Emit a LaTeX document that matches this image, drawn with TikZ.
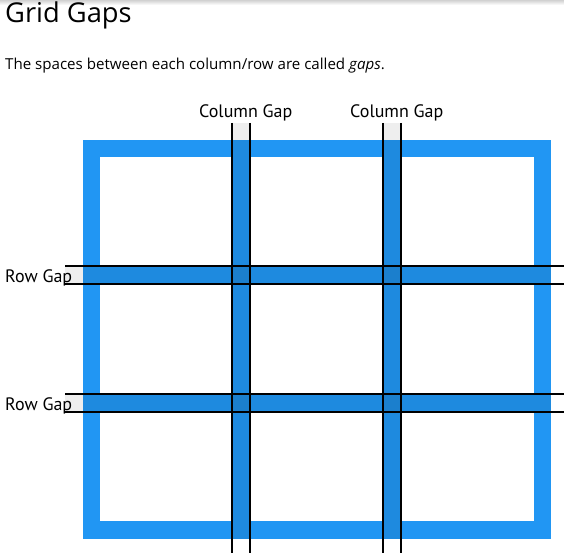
\documentclass[tikz,border=0pt]{standalone}
\usepackage{fontspec}
\setmainfont{Open Sans}
\newfontfamily\labelfont{PT Sans}
\definecolor{framecol}{HTML}{2196F3}
\definecolor{padcol}{HTML}{EEEEEE}
\begin{document}
\begin{tikzpicture}[x=1pt,y=-1pt,
  gaplabel/.style={font=\labelfont\fontsize{18}{18}\selectfont,inner sep=0pt,anchor=base west},
  gapline/.style={draw=black,line width=2pt},
  gapband/.style={fill=framecol},
  gapshade/.style={fill=black,fill opacity=0.08}]
\def\colA{232}
\def\colB{383}
\def\rowA{266}
\def\rowB{394}
\def\gap{18}
\useasboundingbox (0,0) rectangle (564,553);
% browser shadow on top
\shade[top color=black!18,bottom color=white] (0,0) rectangle (564,5);
\path
(5,23) node [anchor=base west,inner sep=0pt,font=\fontsize{27.3}{28}\selectfont] (title) {Grid Gaps}
(5,70) node [anchor=base west,inner sep=0pt,font=\fontsize{15.1}{16}\selectfont] (intro) {The spaces between each column/row are called \textit{gaps}.}
;
% outer frame of the grid
\fill[framecol] (83,140) rectangle (551,539);
\fill[white] (100,157) rectangle (534,521);
% grey padding outside the frame
\fill[padcol] (\colA,123) rectangle ++(\gap,17);
\fill[padcol] (\colB,123) rectangle ++(\gap,17);
\fill[padcol] (65,\rowA) rectangle ++(18,\gap);
\fill[padcol] (65,\rowB) rectangle ++(18,\gap);
% gap bands
\foreach \c in {\colA,\colB}
  \fill[gapband] (\c,140) rectangle ++(\gap,399);
\foreach \r in {\rowA,\rowB}
  \fill[gapband] (83,\r) rectangle ++(468,\gap);
\foreach \c in {\colA,\colB}
  \fill[gapshade] (\c,140) rectangle ++(\gap,399);
\foreach \r in {\rowA,\rowB}
  \fill[gapshade] (83,\r) rectangle ++(468,\gap);
% the lines round each gap
\begin{scope}[every path/.style=gapline]
\foreach \c in {\colA,\colB} {
  \path (\c,123) -- (\c,553);
  \path (\c+\gap,123) -- (\c+\gap,553);
}
\foreach \r in {\rowA,\rowB} {
  \path (65,\r) -- (564,\r);
  \path (65,\r+\gap) -- (564,\r+\gap);
}
\end{scope}
\path
(199,118) node [gaplabel] (colgap1) {Column Gap}
(350,118) node [gaplabel] (colgap2) {Column Gap}
(5,282) node [gaplabel] (rowgap1) {Row Gap}
(5,410) node [gaplabel] (rowgap2) {Row Gap}
;
\end{tikzpicture}
\end{document}
